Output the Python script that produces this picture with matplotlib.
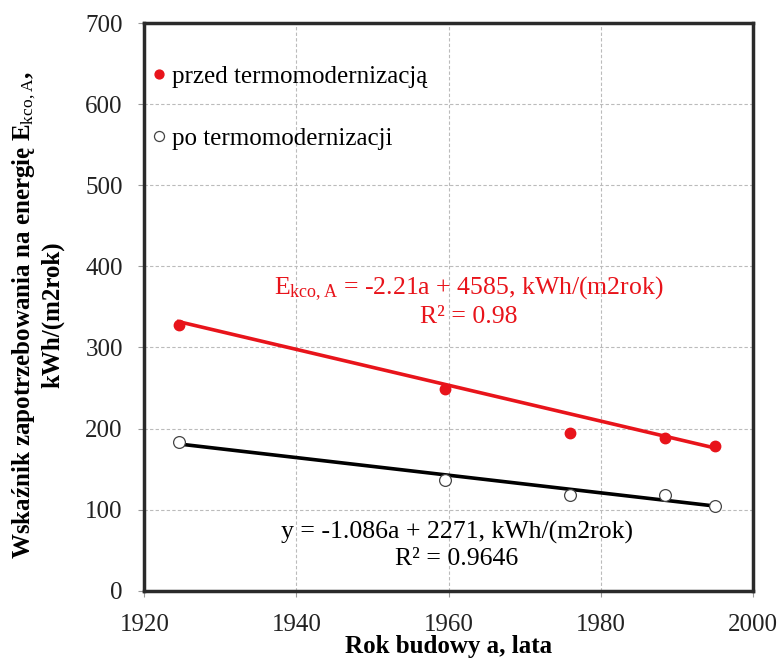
import numpy as np
import matplotlib.pyplot as plt

plt.rcParams['font.family'] = ['Liberation Serif', 'DejaVu Serif']
plt.rcParams['mathtext.fontset'] = 'custom'
plt.rcParams['mathtext.rm'] = 'Liberation Serif'
plt.rcParams['mathtext.it'] = 'Liberation Serif'
plt.rcParams['mathtext.bf'] = 'Liberation Serif:bold'

# rok budowy budynku
lata = [1924.5, 1959.5, 1976, 1988.5, 1995]
# wskaznik Ekco,A przed i po termomodernizacji, kWh/(m2rok)
przed = [328, 249, 195, 188, 178]
po = [184, 136, 118, 118, 104]

# wspolczynniki linii trendu
przed_a, przed_b, przed_r2 = -2.21, 4585, 0.98
po_a, po_b, po_r2 = -1.086, 2271, 0.9646

CZERWONY = '#e8141b'

fig = plt.figure(figsize=(7.8, 6.6), dpi=100)
ax = fig.add_axes([0.185, 0.105, 0.78, 0.86])

x_tr = np.array([lata[0], lata[-1]])
ax.plot(x_tr, przed_a * x_tr + przed_b, color=CZERWONY, lw=2.6, zorder=2)
ax.plot(x_tr, po_a * x_tr + po_b, color='black', lw=2.6, zorder=2)

ax.plot(lata, przed, 'o', color=CZERWONY, ms=7.5, zorder=3,
        label='przed termomodernizacją')
ax.plot(lata, po, 'o', mfc='white', mec='#444444', mew=0.9, ms=8.5, zorder=3,
        label='po termomodernizacji')

ax.text(1962.7, 357, r'E$_{\mathrm{kco,A}}$' + f' = {przed_a}a + {przed_b}, kWh/(m2rok)\n'
        + f'R² = {przed_r2}', color=CZERWONY, fontsize=18.5, ha='center', va='center',
        linespacing=1.2)
ax.text(1961.1, 56, f'y = {po_a}a + {po_b}, kWh/(m2rok)\nR² = {po_r2}',
        color='black', fontsize=18.5, ha='center', va='center', linespacing=1.2)

ax.set_xlim(1920, 2000)
ax.set_ylim(0, 700)
ax.set_xticks(np.arange(1920, 2001, 20))
ax.set_yticks(np.arange(0, 701, 100))
ax.tick_params(labelsize=18, length=4.5, color='#999999', width=0.8,
               labelcolor='#222222')
ax.tick_params(axis='x', pad=12.5)
ax.tick_params(axis='y', pad=11)
ax.grid(True, ls=(0, (3, 2)), color='#bbbbbb', lw=0.8)
ax.set_axisbelow(True)
for s in ax.spines.values():
    s.set_linewidth(2.5)
    s.set_color('#2a2a2a')

ax.set_xlabel('Rok budowy a, lata', fontsize=18, fontweight='bold', va='center')
ax.xaxis.set_label_coords(0.5, -0.099)
ax.set_ylabel('Wskaźnik zapotrzebowania na energię E$_{\\mathrm{kco,A}}$,\nkWh/(m2rok)',
              fontsize=18, fontweight='bold', linespacing=1.15, va='center')
ax.yaxis.set_label_coords(-0.176, 0.486)

ax.legend(loc='upper left', bbox_to_anchor=(0.012, 0.926), frameon=False,
          fontsize=18, handlelength=0.6, handletextpad=0.22, labelspacing=1.6,
          borderpad=0, borderaxespad=0, markerscale=0.85)

fig.savefig('out.png', dpi=100)
